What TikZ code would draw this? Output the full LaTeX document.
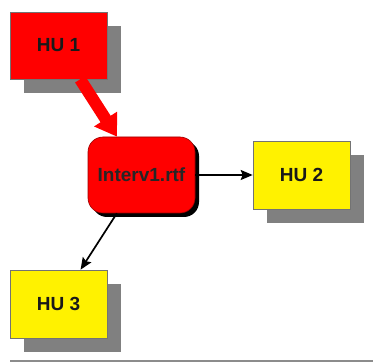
\documentclass[tikz,border=0pt]{standalone}
\usepackage{fontspec}
\setmainfont{Liberation Sans}
\usetikzlibrary{positioning,shadows,arrows.meta}
\tikzset{>=stealth}
\tikzset{
  hubox/.style={draw=black!55,line width=.6pt,minimum width=97pt,minimum height=67pt,
    font=\bfseries\fontsize{19}{22}\selectfont,text=black!90,
    drop shadow={shadow xshift=14pt,shadow yshift=-14pt,fill=black!50,opacity=1}},
  filebox/.style={draw=red!60!black,line width=.6pt,fill=red,rounded corners=15pt,
    minimum width=107pt,minimum height=76pt,font=\bfseries\fontsize{19}{22}\selectfont,text=black!85,
    drop shadow={shadow xshift=4pt,shadow yshift=-4pt,fill=black,opacity=1}},
  thinarrow/.style={->,line width=1.7pt,>={Stealth[length=12pt,width=10pt,inset=2pt]}},
  fatarrow/.style={-{Triangle[length=21pt,width=26pt]},line width=12pt,red}
}

\begin{document}
\begin{tikzpicture}[x=1pt,y=-1pt]
\useasboundingbox (0,0) rectangle (373,363);
\node[hubox,fill=red] (hu1) at (58.5,45.5) {HU 1};
\node[filebox] (iv) at (141.5,175) {Interv1.rtf};
\node[hubox,fill=yellow,minimum height=68pt] (hu2) at (301.5,175) {HU 2};
\node[hubox,fill=yellow,minimum height=68pt] (hu3) at (58.5,304) {HU 3};
\draw[fatarrow] (hu1) -- (iv);
\draw[thinarrow] (iv) -- (hu2);
\draw[thinarrow] (iv) -- (hu3);
\coordinate (lineL) at (10,361);
\coordinate (lineR) at (373,361);
\draw[black!45,line width=2pt] (lineL) -- (lineR);
\end{tikzpicture}
\end{document}
